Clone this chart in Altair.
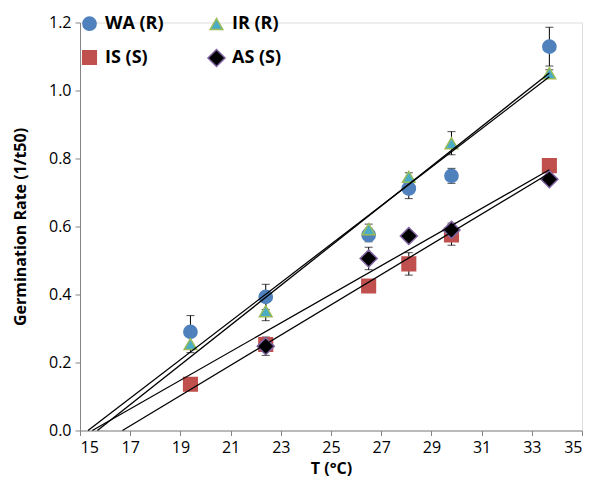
import altair as alt
import numpy as np
import pandas as pd

series_names = ["WA (R)", "IR (R)", "IS (S)", "AS (S)"]

wa_T = [19.4, 22.4, 26.5, 28.1, 29.8, 33.7]
wa_rate = [0.290, 0.393, 0.575, 0.712, 0.749, 1.129]
wa_err = [0.048, 0.037, 0.020, 0.030, 0.022, 0.057]

ir_T = [19.4, 22.4, 26.5, 28.1, 29.8, 33.7]
ir_rate = [0.254, 0.351, 0.592, 0.746, 0.845, 1.051]
ir_err = [0.025, 0.028, 0.015, 0.012, 0.034, 0.010]

is_T = [19.4, 22.4, 26.5, 28.1, 29.8, 33.7]
is_rate = [0.136, 0.253, 0.425, 0.490, 0.575, 0.779]
is_err = [0.010, 0.015, 0.010, 0.033, 0.030, 0.010]

as_T = [22.4, 26.5, 28.1, 29.8, 33.7]
as_rate = [0.248, 0.506, 0.572, 0.590, 0.739]
as_err = [0.027, 0.033, 0.010, 0.020, 0.010]

x_ticks = [15, 17, 19, 21, 23, 25, 27, 29, 31, 33, 35]
y_ticks = [0.0, 0.2, 0.4, 0.6, 0.8, 1.0, 1.2]

fill_colors = ["#4F81BD", "#4BACC6", "#C0504D", "#000000"]
stroke_colors = ["#4F81BD", "#9BBB59", "#C0504D", "#8064A2"]
# diamond drawn as a custom path spanning the full symbol box
shapes = ["circle", "triangle-up", "square", "M0,-1L1,0L0,1L-1,0Z"]
sizes = [175, 160, 185, 290]

groups = [(wa_T, wa_rate, wa_err), (ir_T, ir_rate, ir_err),
          (is_T, is_rate, is_err), (as_T, as_rate, as_err)]

rows = []
line_rows = []
for name, (T, r, e) in zip(series_names, groups):
    for t, v, er in zip(T, r, e):
        rows.append({"series": name, "T": t, "rate": v,
                     "lo": v - er, "hi": v + er})
    # linear trendline (least squares), extended back to rate = 0
    a, b = np.polyfit(T, r, 1)
    x0 = -b / a
    x1 = max(T)
    line_rows.append({"series": name, "T": x0, "rate": 0.0, "o": 0})
    line_rows.append({"series": name, "T": x1, "rate": a * x1 + b, "o": 1})

df = pd.DataFrame(rows)
lines_df = pd.DataFrame(line_rows)

FONT = "Open Sans"

x_scale = alt.Scale(domain=[15, 35], nice=False, zero=False)
y_scale = alt.Scale(domain=[0, 1.2], nice=False)

x_axis = alt.Axis(values=x_ticks, title="T (°C)", grid=False, format="d",
                  domainColor="#868686", tickColor="#868686", tickSize=5,
                  labelFontSize=16, labelColor="#000000", labelPadding=4,
                  titleFontSize=16, titleFontWeight="bold", titlePadding=5,
                  labelFont=FONT, titleFont=FONT, titleColor="#000000")
y_axis = alt.Axis(values=y_ticks, title="Germination Rate (1/t50)", grid=False,
                  format=".1f", domainColor="#868686", tickColor="#868686",
                  tickSize=5, labelFontSize=16, labelColor="#000000",
                  labelPadding=4, titleFontSize=16, titleFontWeight="bold",
                  titlePadding=20, labelFont=FONT, titleFont=FONT,
                  titleColor="#000000")

x_enc = alt.X("T:Q", scale=x_scale, axis=x_axis)

err_rule = alt.Chart(df).mark_rule(color="#000000", strokeWidth=1).encode(
    x=x_enc,
    y=alt.Y("lo:Q", scale=y_scale, axis=y_axis),
    y2="hi:Q",
)
cap_lo = alt.Chart(df).mark_tick(color="#000000", orient="horizontal",
                                 size=8, thickness=1).encode(
    x=x_enc, y=alt.Y("lo:Q", scale=y_scale))
cap_hi = alt.Chart(df).mark_tick(color="#000000", orient="horizontal",
                                 size=8, thickness=1).encode(
    x=x_enc, y=alt.Y("hi:Q", scale=y_scale))

legend = alt.Legend(title=None, orient="none", legendX=0, legendY=-8,
                    direction="horizontal", columns=2, values=series_names,
                    columnPadding=40, rowPadding=12,
                    labelFont=FONT, labelFontSize=18, labelFontWeight="bold",
                    labelColor="#000000", labelOffset=6,
                    symbolStrokeWidth=1.5)

points = alt.Chart(df).mark_point(filled=False, opacity=1, fillOpacity=1,
                                  strokeWidth=1.5).encode(
    x=x_enc,
    y=alt.Y("rate:Q", scale=y_scale),
    shape=alt.Shape("series:N", sort=series_names,
                    scale=alt.Scale(domain=series_names, range=shapes),
                    legend=legend),
    fill=alt.Fill("series:N", sort=series_names,
                  scale=alt.Scale(domain=series_names, range=fill_colors),
                  legend=legend),
    stroke=alt.Stroke("series:N", sort=series_names,
                      scale=alt.Scale(domain=series_names, range=stroke_colors),
                      legend=legend),
    size=alt.Size("series:N", sort=series_names,
                  scale=alt.Scale(type="ordinal", domain=series_names,
                                  range=sizes),
                  legend=legend),
)

trend = alt.Chart(lines_df).mark_line(color="#000000", strokeWidth=1.3).encode(
    x=x_enc,
    y=alt.Y("rate:Q", scale=y_scale),
    detail="series:N",
    order="o:Q",
)

chart = alt.layer(err_rule, cap_lo, cap_hi, points, trend).properties(
    width=502, height=408,
    autosize=alt.AutoSizeParams(type="none"),
    padding={"left": 72, "top": 14.5, "right": 3, "bottom": 50},
).configure_view(stroke=None).configure(background="#ffffff")

chart.save("out.html", embed_options={"renderer": "svg", "actions": False})
